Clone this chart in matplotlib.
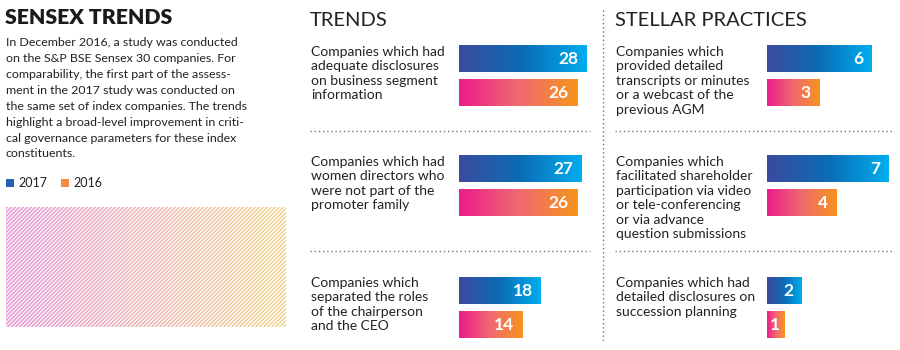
import numpy as np
import matplotlib.pyplot as plt
from matplotlib.colors import LinearSegmentedColormap, to_rgb
from matplotlib.lines import Line2D
from matplotlib.patches import Rectangle

# ---- data ----
years = ['2017', '2016']
trends_labels = [
    ['Companies which had', 'adequate disclosures', 'on business segment', 'information'],
    ['Companies which had', 'women directors who', 'were not part of the', 'promoter family'],
    ['Companies which', 'separated the roles', 'of the chairperson', 'and the CEO'],
]
trends_2017 = [28, 27, 18]
trends_2016 = [26, 26, 14]
stellar_labels = [
    ['Companies which', 'provided detailed', 'transcripts or minutes', 'or a webcast of the', 'previous AGM'],
    ['Companies which', 'facilitated shareholder', 'participation via video', 'or tele-conferencing',
     'or via advance', 'question submissions'],
    ['Companies which had', 'detailed disclosures on', 'succession planning'],
]
stellar_2017 = [6, 7, 2]
stellar_2016 = [3, 4, 1]

title = 'SENSEX TRENDS'
intro = [
    'In December 2016, a study was conducted',
    'on the S&P BSE Sensex 30 companies. For',
    'comparability, the first part of the assess-',
    'ment in the 2017 study was conducted on',
    'the same set of index companies. The trends',
    'highlight a broad-level improvement in criti-',
    'cal governance parameters for these index',
    'constituents.',
]

# ---- layout (pixels) ----
W, H = 900, 350
FONT = ['Lato', 'DejaVu Sans']
plt.rcParams['font.family'] = FONT

fig = plt.figure(figsize=(9, 3.5), dpi=100)


def fx(x):
    return x / W


def fy(y):
    return 1 - y / H


def text_px(x, y, s, **kw):
    fig.text(fx(x), fy(y), s, va='center', ha='left', **kw)


cmap_2017 = LinearSegmentedColormap.from_list('c17', ['#3c4a9e', '#0b6cb5', '#00aeef'])
cmap_2016 = LinearSegmentedColormap.from_list('c16', ['#ec1c8c', '#f06a70', '#f7941d'])
grad = np.linspace(0, 1, 256).reshape(1, -1)

row_top = [45, 155, 277]
row_text = [52, 162, 283]
bar_h, gap = 27, 7


def panel(x0, x1, unit_px, labels, v17, v16, text_x):
    ax = fig.add_axes([fx(x0), 0, fx(x1 - x0), 1])
    ax.axis('off')
    y17 = [t + bar_h / 2 for t in row_top]
    y16 = [t + bar_h + gap + bar_h / 2 for t in row_top]
    for ys, vals, cmap in ((y17, v17, cmap_2017), (y16, v16, cmap_2016)):
        bars = ax.barh(ys, vals, height=bar_h, color='none', lw=0)
        for b, v in zip(bars, vals):
            x, y, w, h = b.get_x(), b.get_y(), b.get_width(), b.get_height()
            im = ax.imshow(grad, extent=[x, x + w, y + h, y], cmap=cmap, aspect='auto')
            im.set_clip_path(b)
            off = -6 if w * unit_px > 30 else -3.5
            ax.annotate(str(v), (x + w, y + h / 2), xytext=(off, 0), textcoords='offset points',
                        ha='right', va='center', color='white', fontweight='bold', fontsize=12.5)
    ax.set_xlim(0, (x1 - x0) / unit_px)
    ax.set_ylim(H, 0)
    for top, lines in zip(row_text, labels):
        for i, line in enumerate(lines):
            text_px(text_x, top + i * 14.4, line, fontsize=10, color='#222222')


panel(459, 600, 4.55, trends_labels, trends_2017, trends_2016, 311)
panel(767, 900, 17.4, stellar_labels, stellar_2017, stellar_2016, 616)

# panel headings
text_px(310, 20, 'TRENDS', fontsize=14.5, color='#222222')
text_px(615, 20, 'STELLAR PRACTICES', fontsize=14.5, color='#222222')

# dotted separators
dot = dict(transform=fig.transFigure, color='#777777', lw=1, linestyle=(0, (1, 2)))
for y in (131, 251):
    fig.add_artist(Line2D([fx(310), fx(590)], [fy(y), fy(y)], **dot))
    fig.add_artist(Line2D([fx(615), fx(892)], [fy(y), fy(y)], **dot))
fig.add_artist(Line2D([fx(603), fx(603)], [fy(10), fy(342)], **dot))

# left intro block
text_px(5, 17, title, fontsize=15.3, fontweight='heavy', color='#1a1a1a')
for i, line in enumerate(intro):
    text_px(6, 42 + i * 16, line, fontsize=8.95, color='#222222')

leg_colors = ['#2563ae', '#f38a3c']
for (lx, yr, c) in zip((6, 61), years, leg_colors):
    fig.add_artist(Rectangle((fx(lx), fy(187)), 8 / W, 8 / H, transform=fig.transFigure,
                             color=c, lw=0))
    text_px(lx + 12, 183, yr, fontsize=9, color='#222222')

# hatched decorative block
hh, ww = 120, 280
ii, jj = np.mgrid[0:hh, 0:ww]
stripe = ((ii + jj) % 4) < 2
c0, c1 = np.array(to_rgb('#e6a0d8')), np.array(to_rgb('#f4dca0'))
t = (jj / (ww - 1))[..., None]
col = c0 * (1 - t) + c1 * t
img = np.where(stripe[..., None], col, 1 - (1 - col) * 0.25)
fig.figimage(img, xo=6, yo=H - 327, origin='upper')

fig.savefig('out.png', dpi=100)
